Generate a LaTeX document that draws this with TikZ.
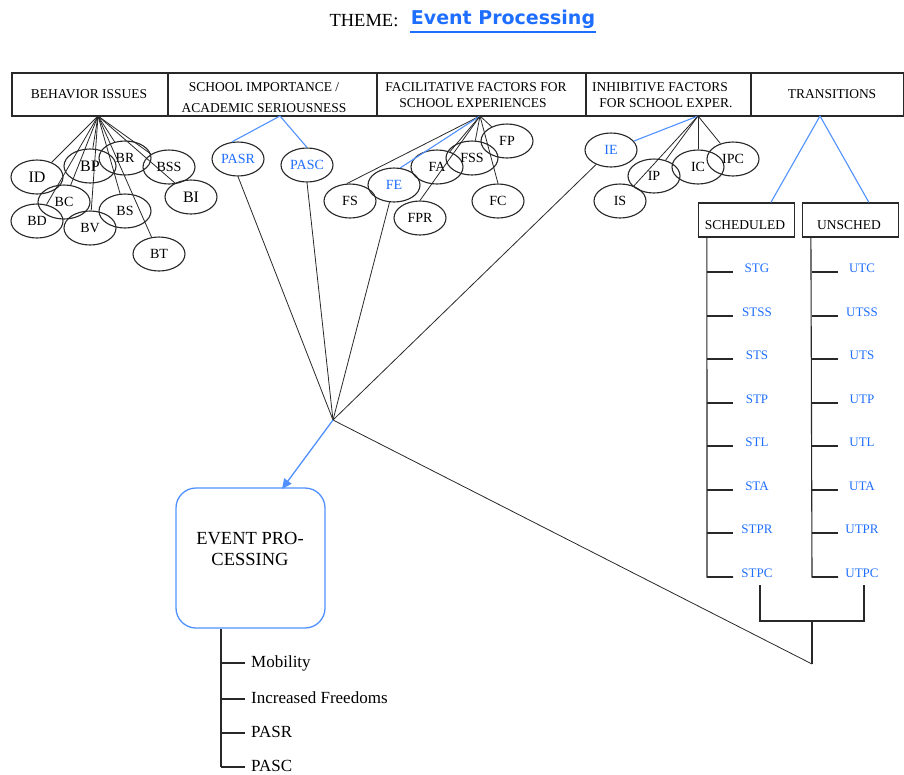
\documentclass[tikz,border=0pt]{standalone}
\usepackage{fontspec}
\setmainfont{Liberation Serif}
\newfontfamily\titlefont{DejaVu Sans}
\usetikzlibrary{shapes.geometric,arrows.meta,calc}
\definecolor{bltxt}{RGB}{30,110,255}
\definecolor{blln}{RGB}{80,145,255}
\definecolor{ink}{RGB}{40,40,40}
\begin{document}
\begin{tikzpicture}[x=1pt,y=-1pt,
  el/.style={draw=ink, ellipse, line width=1.1pt, minimum width=52pt, minimum height=34pt, inner sep=0pt, font=\fontsize{14}{14}\selectfont},
  big/.style={font=\fontsize{16}{16}\selectfont},
  fanline/.style={draw=ink, line width=0.8pt},
  bfan/.style={draw=blln, line width=1.1pt},
  hbox/.style={draw=ink, line width=1.2pt, minimum height=43pt, inner sep=0pt},
  htext/.style={font=\fontsize{13.5}{13.5}\selectfont, inner sep=0pt},
  tbox/.style={draw=ink, line width=1.2pt, minimum width=96pt, minimum height=34pt, inner sep=0pt},
  sched/.style={font=\fontsize{13}{13}\selectfont, text=bltxt, inner sep=0pt},
  tree/.style={draw=ink, line width=1.1pt},
  lst/.style={font=\fontsize{17}{17}\selectfont, inner sep=0pt, anchor=base west},
]
\useasboundingbox (0,0) rectangle (904,774);

% title
\node[font=\fontsize{18.5}{18.5}\selectfont, inner sep=0pt] (theme) at (364,21) {THEME:};
\node[font=\titlefont\bfseries\fontsize{19}{19}\selectfont, text=bltxt, inner sep=0pt] (ttl) at (503,19) {Event Processing};
\draw[draw=bltxt, line width=1.6pt] (410,32) -- (596,32);

% header row
\node[hbox, minimum width=156pt] (h1) at (90,94.5) {};
\node[hbox, minimum width=209pt] (h2) at (272.5,94.5) {};
\node[hbox, minimum width=209pt] (h3) at (481.5,94.5) {};
\node[hbox, minimum width=165pt] (h4) at (668.5,94.5) {};
\node[hbox, minimum width=153pt] (h5) at (827.5,94.5) {};
\node[htext] (t1) at (89,94) {BEHAVIOR ISSUES};
\node[htext] (t2a) at (264,87) {SCHOOL IMPORTANCE /};
\node[htext] (t2b) at (264,108) {ACADEMIC SERIOUSNESS};
\node[htext] (t3a) at (476,87) {FACILITATIVE FACTORS FOR};
\node[htext] (t3b) at (473,103) {SCHOOL EXPERIENCES};
\node[htext] (t4a) at (660,87) {INHIBITIVE FACTORS};
\node[htext] (t4b) at (666,103) {FOR SCHOOL EXPER.};
\node[htext] (t5) at (832,94) {TRANSITIONS};

% apexes and hub
\coordinate (ba) at (98,116);
\coordinate (pa) at (280,116);
\coordinate (fa) at (480,116);
\coordinate (ia) at (698,116);
\coordinate (ta) at (820,116);
\coordinate (hub) at (333,420);

% behavior issues
\node[el,big] (ID) at (37,177) {ID};
\node[el,big] (BP) at (90,166) {BP};
\node[el] (BR) at (125,158) {BR};
\node[el] (BSS) at (169,167) {BSS};
\node[el,big] (BI) at (191,197) {BI};
\node[el] (BC) at (64,202) {BC};
\node[el] (BD) at (37,221) {BD};
\node[el] (BV) at (90,228) {BV};
\node[el] (BS) at (125,211) {BS};
\node[el] (BT) at (159,254) {BT};
\foreach \n in {ID,BP,BR,BSS,BI,BC,BD,BV,BS,BT} \draw[fanline] (ba) -- (\n);

% school importance
\node[el, text=bltxt] (PASR) at (238,159) {PASR};
\node[el, text=bltxt] (PASC) at (307,165) {PASC};
\draw[bfan] (pa) -- (PASR.110);
\draw[bfan] (pa) -- (PASC.north);
\draw[fanline] (PASR.south) -- (hub);
\draw[fanline] (PASC.south) -- (hub);

% facilitative factors
\node[el] (FS) at (350,201) {FS};
\node[el, text=bltxt] (FE) at (394,185) {FE};
\node[el] (FA) at (437,167) {FA};
\node[el] (FSS) at (472,158) {FSS};
\node[el] (FP) at (507,141) {FP};
\node[el] (FPR) at (420,218) {FPR};
\node[el] (FC) at (498,201) {FC};
\draw[fanline] (fa) -- (FS.100);
\draw[bfan] (fa) -- (FE.70);
\draw[fanline] (fa) -- (FA);
\draw[fanline] (fa) -- (FPR.north);
\draw[fanline] (fa) -- (FSS);
\draw[fanline] (fa) -- (FP);
\draw[fanline] (fa) -- (FC.north);
\draw[fanline] (FE) -- (hub);

% inhibitive factors
\node[el, text=bltxt] (IE) at (611,150) {IE};
\node[el] (IP) at (654,176) {IP};
\node[el] (IC) at (698,167) {IC};
\node[el] (IPC) at (733,159) {IPC};
\node[el] (IS) at (620,201) {IS};
\draw[bfan] (ia) -- (IE);
\foreach \n in {IS,IP,IC,IPC} \draw[fanline] (ia) -- (\n);
\draw[fanline] (IE) -- (hub);

% transitions
\node[tbox] (sch) at (746.5,220) {};
\node[tbox] (uns) at (850.5,220) {};
\node[htext] (scht) at (745,225.5) {SCHEDULED};
\node[htext] (unst) at (849,225.5) {UNSCHED};
\draw[bfan] (ta) -- ($(sch.north west)+(73,0)$);
\draw[bfan] (ta) -- ($(uns.north west)+(67,0)$);

\draw[tree] ($(sch.south west)+(9,0)$) -- (707,577) -- (733,577);
\foreach \y/\t [count=\i] in {272/STG,316/STSS,359/STS,403/STP,446/STL,490/STA,533/STPR,577/STPC} {
  \draw[tree] (707,\y) -- (733,\y);
  \node[sched] (s\i) at (757,\y-3.5) {\t};
}
\draw[tree] ($(uns.south west)+(9,0)$) -- (812,577) -- (838,577);
\foreach \y/\t [count=\i] in {272/UTC,316/UTSS,359/UTS,403/UTP,446/UTL,490/UTA,533/UTPR,577/UTPC} {
  \draw[tree] (812,\y) -- (838,\y);
  \node[sched] (u\i) at (862,\y-3.5) {\t};
}
\coordinate (bstem) at (812,664);
\draw[tree] (760,585) -- (760,621) -- (864,621) -- (864,585);
\draw[tree] (812,621) -- (bstem);
\draw[fanline] (hub) -- (bstem);

% event processing
\node[draw=blln, line width=1.3pt, rounded corners=20pt, minimum width=149pt, minimum height=140pt] (ep) at (250.5,558) {};
\node[font=\fontsize{18.5}{21}\selectfont, align=center, inner sep=0pt] (ept) at (250,549) {EVENT PRO-\\CESSING};
\coordinate (epin) at (282,489);
\draw[draw=blln, line width=1.3pt, -{Triangle[length=10pt,width=9pt]}] (hub) -- (epin);

\draw[tree] (ep.south -| 221,0) -- (221,767);
\foreach \y/\t [count=\i] in {663/Mobility,699/Increased Freedoms,733/PASR,767/PASC} {
  \draw[tree] (221,\y) -- (245,\y);
  \node[lst] (l\i) at (251,\y+4) {\t};
}
\end{tikzpicture}
\end{document}
